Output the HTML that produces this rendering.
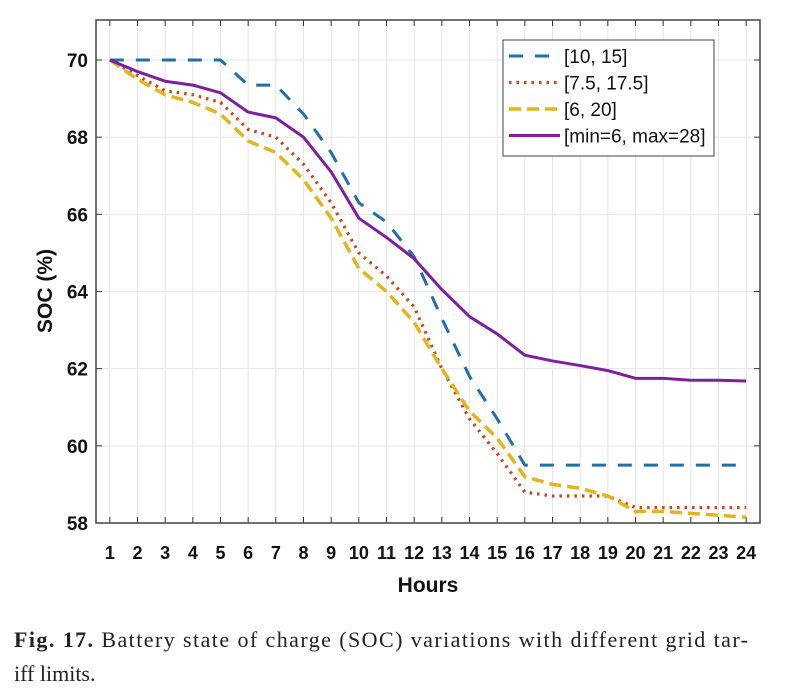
<!DOCTYPE html>
<html><head><meta charset="utf-8"><style>
body{margin:0;background:#fff;width:788px;height:699px;overflow:hidden;position:relative;font-family:"Liberation Sans",sans-serif}
</style></head><body>
<svg id="chart" width="788" height="610" style="position:absolute;left:0;top:0" xmlns="http://www.w3.org/2000/svg"></svg>
<svg width="788" height="89" style="position:absolute;left:0;top:610px" xmlns="http://www.w3.org/2000/svg">
<text x="14" y="37" font-family="Liberation Serif, serif" font-size="22" fill="#222" textLength="734" lengthAdjust="spacing"><tspan font-weight="bold">Fig. 17.</tspan> Battery state of charge (SOC) variations with different grid tar-</text>
<text x="14" y="71" font-family="Liberation Serif, serif" font-size="22" fill="#222">iff limits.</text>
</svg>
<script>
const hours=[1,2,3,4,5,6,7,8,9,10,11,12,13,14,15,16,17,18,19,20,21,22,23,24];
const yTicks=[58,60,62,64,66,68,70];
const seriesNames=["[10, 15]","[7.5, 17.5]","[6, 20]","[min=6, max=28]"];
const s1=[70,70,70,70,70,69.35,69.35,68.6,67.6,66.3,65.8,64.9,63.3,61.8,60.7,59.5,59.5,59.5,59.5,59.5,59.5,59.5,59.5,59.5];
const s2=[70,69.6,69.2,69.1,68.9,68.2,68.0,67.3,66.3,65.0,64.4,63.6,62.0,60.7,59.8,58.8,58.7,58.7,58.7,58.4,58.4,58.4,58.4,58.4];
const s3=[70,69.5,69.1,68.9,68.6,67.9,67.6,66.9,65.9,64.6,64.0,63.2,62.0,60.9,60.2,59.2,59.0,58.9,58.7,58.3,58.3,58.25,58.2,58.15];
const s4=[70,69.7,69.45,69.35,69.15,68.65,68.5,68.0,67.1,65.9,65.4,64.85,64.05,63.35,62.9,62.35,62.2,62.08,61.95,61.75,61.75,61.7,61.7,61.68];
const svg=document.getElementById('chart');const NS='http://www.w3.org/2000/svg';
const L=96,R=760,T=20,B=523;
const xs=h=>L+(h-0.5)/24*(R-L);
const ys=v=>B-(v-58)/(70-58)*(B-60);
function mk(t,a,p){const e=document.createElementNS(NS,t);for(const k in a)e.setAttribute(k,a[k]);(p||svg).appendChild(e);return e;}
hours.forEach(h=>{
const g=mk('line',{x1:xs(h),x2:xs(h),y1:T,y2:B,stroke:'#e6e6e6','stroke-width':1});

mk('line',{x1:xs(h),x2:xs(h),y1:B,y2:B-6,stroke:'#333'});mk('line',{x1:xs(h),x2:xs(h),y1:T,y2:T+6,stroke:'#333'});
const t=mk('text',{x:xs(h),y:B+36,'text-anchor':'middle','font-size':18,'font-weight':'bold',fill:'#111'});t.textContent=h;

});
yTicks.forEach(v=>{
const g=mk('line',{x1:L,x2:R,y1:ys(v),y2:ys(v),stroke:'#e6e6e6'});

mk('line',{x1:L,x2:L+6,y1:ys(v),y2:ys(v),stroke:'#333'});mk('line',{x1:R,x2:R-6,y1:ys(v),y2:ys(v),stroke:'#333'});
const t=mk('text',{x:88,y:ys(v)+7,'text-anchor':'end','font-size':19,'font-weight':'bold',fill:'#111'});t.textContent=v;

});
const box=mk('rect',{x:L,y:T,width:R-L,height:B-T,fill:'none',stroke:'#444','stroke-width':1.5});

const styles=[{c:'#1f6fa8',d:'14,12',w:3,n:'series-10-15'},{c:'#c8461c',d:'2.5,5',w:3.2,n:'series-7.5-17.5'},{c:'#e2b51c',d:'12,6',w:3.5,n:'series-6-20'},{c:'#7e1fa0',d:'',w:3,n:'series-min6-max28'}];
[s1,s2,s3,s4].forEach((s,i)=>{
const st=styles[i];
const p=mk('polyline',{points:s.map((v,j)=>xs(hours[j])+','+ys(v)).join(' '),fill:'none',stroke:st.c,'stroke-width':st.w,'stroke-dasharray':st.d,'stroke-linejoin':'round'});

});
const lg=mk('g',{});
mk('rect',{x:503,y:40,width:211,height:116,fill:'#fff',stroke:'#444','stroke-width':1},lg);
seriesNames.forEach((n,i)=>{
const st=styles[i];const y=56+i*26.5;
const l=mk('line',{x1:509,x2:560,y1:y,y2:y,stroke:st.c,'stroke-width':st.w,'stroke-dasharray':st.d},lg);

const t=mk('text',{x:564,y:y+7,'font-size':19,fill:'#111'},lg);t.textContent=n;

});
const xt=mk('text',{x:428,y:592,'text-anchor':'middle','font-size':21,'font-weight':'bold',fill:'#111'});xt.textContent='Hours';

const yt=mk('text',{x:0,y:0,'text-anchor':'middle','font-size':21,'font-weight':'bold',fill:'#111',transform:'translate(52,291) rotate(-90)'});yt.textContent='SOC (%)';

</script>
</body></html>
